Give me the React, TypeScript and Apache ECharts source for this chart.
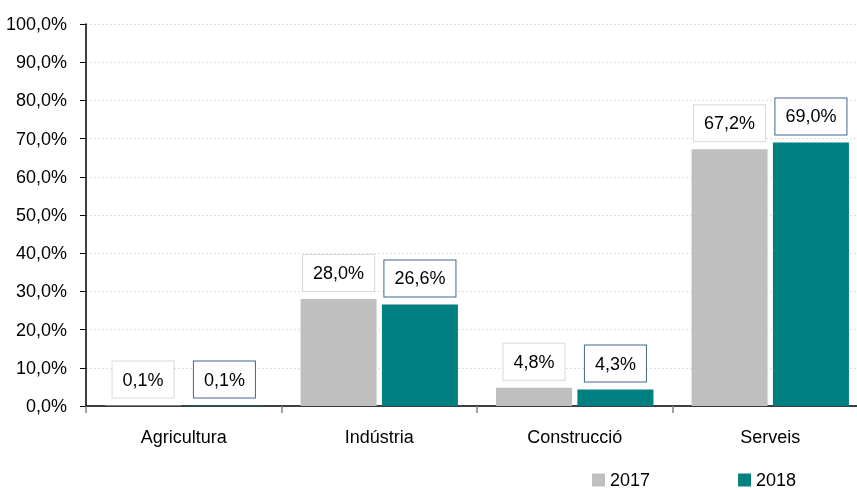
import React, { useEffect, useRef } from "react";
import * as echarts from "echarts";

const categories = ["Agricultura", "Indústria", "Construcció", "Serveis"];
const values2017 = [0.1, 28.0, 4.8, 67.2];
const values2018 = [0.1, 26.6, 4.3, 69.0];
const seriesNames = ["2017", "2018"];

const FONT = "'Liberation Sans Narrow', 'Arial Narrow', 'Liberation Sans', Arial, sans-serif";
const FS = 18;
const fmt = (v: number) => v.toFixed(1).replace(".", ",") + "%";

export default function App() {
  const ref = useRef<HTMLDivElement>(null);
  useEffect(() => {
    if (!ref.current) return;
    const chart = echarts.init(ref.current, null, { renderer: "svg" });
    const label = (border: string) => ({
      show: true,
      position: "top" as const,
      distance: 8,
      formatter: (p: any) => fmt(p.value),
      color: "#000",
      fontFamily: FONT,
      fontSize: FS,
      lineHeight: 20,
      backgroundColor: "#fff",
      borderColor: border,
      borderWidth: 1,
      padding: [8, 10, 8, 10],
    });
    chart.setOption({
      animation: false,
      textStyle: { fontFamily: FONT },
      grid: { left: 86, top: 24, width: 782, height: 382, outerBoundsMode: "none" },
      legend: {
        data: seriesNames,
        left: 592,
        top: 470,
        padding: 0,
        itemWidth: 13,
        itemHeight: 13,
        itemGap: 88,
        icon: "rect",
        textStyle: { fontFamily: FONT, fontSize: FS, lineHeight: 20, color: "#000" },
      },
      xAxis: {
        type: "category",
        data: categories,
        axisLine: { lineStyle: { color: "#000", width: 1.5 } },
        axisTick: { show: true, length: 7, lineStyle: { color: "#7f7f7f", width: 1.5 } },
        axisLabel: { color: "#000", fontFamily: FONT, fontSize: FS, margin: 22 },
      },
      yAxis: {
        type: "value",
        min: 0,
        max: 100,
        interval: 10,
        axisLine: { show: true, lineStyle: { color: "#000", width: 1.5 } },
        axisTick: { show: true, length: 6, lineStyle: { color: "#000" } },
        axisLabel: { color: "#000", fontFamily: FONT, fontSize: FS, margin: 19, formatter: (v: number) => fmt(v) },
        splitLine: { show: true, lineStyle: { color: "#e0e0e0", type: [2, 2] } },
      },
      series: [
        {
          name: seriesNames[0],
          type: "bar",
          data: values2017,
          itemStyle: { color: "#bfbfbf" },
          barGap: "7%",
          barCategoryGap: "19.5%",
          label: label("#d9d9d9"),
        },
        {
          name: seriesNames[1],
          type: "bar",
          data: values2018,
          itemStyle: { color: "#008080" },
          barGap: "7%",
          barCategoryGap: "19.5%",
          label: label("#41668f"),
        },
      ],
    });
    return () => chart.dispose();
  }, []);
  return <div ref={ref} style={{ position: "fixed", left: 0, top: 0, width: 857, height: 490 }} />;
}
